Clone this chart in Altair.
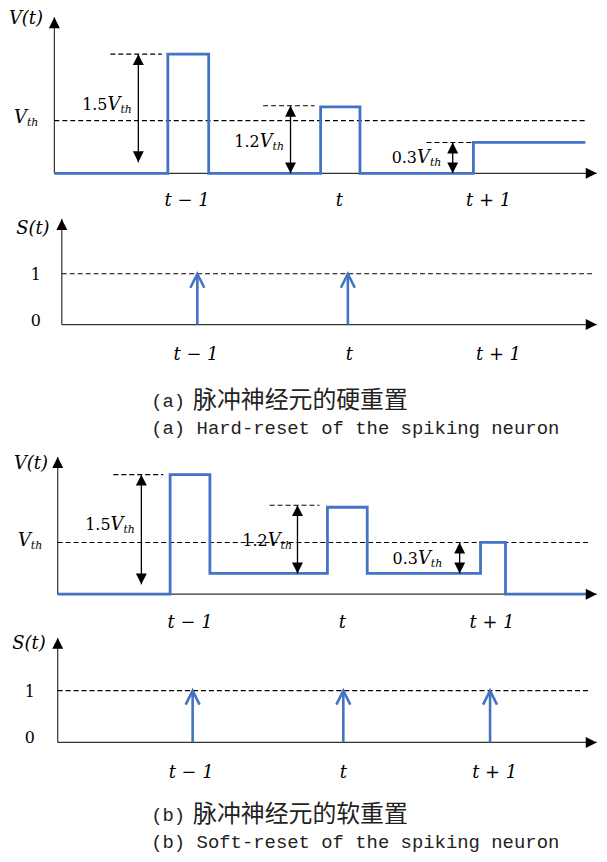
import altair as alt
import pandas as pd

BLUE = "#4472C4"
SERIF = "DejaVu Serif"
MONO = "Liberation Mono"
CJK = "Noto Sans CJK SC"
XDOM = [-0.2, 3.687]
W = 591
TICK_TEXT = ["t − 1", "t", "t + 1"]

# ---------- (a) hard reset : V(t) ----------
hv_wave_t = [0.10, 0.85, 0.85, 1.12, 1.12, 1.86, 1.86, 2.12, 2.12, 2.87, 2.87, 3.61]
hv_wave_v = [0, 0, 2.26, 2.26, 0, 0, 1.26, 1.26, 0, 0, 0.585, 0.585]
hv_axis = [0.10, 2.96, 3.685]          # axis x, top tip, right tip
hv_dash_t0 = [0.10, 0.47, 1.48, 2.56]
hv_dash_t1 = [3.61, 0.81, 1.82, 2.87]
hv_dash_v = [1.0, 2.26, 1.28, 0.585]
hv_arr_t = [0.655, 1.661, 2.733]
hv_arr_top = [2.26, 1.28, 0.585]
hv_arr_bot = [0.21, 0.0, 0.0]
hv_lab_t = [-0.167, 0.451, 1.457, 2.497]
hv_lab_v = [1.04, 1.29, 0.60, 0.29]
hv_lab_num = ["", "1.5", "1.2", "0.3"]
hv_math_t = [-0.088, 0.977, 1.984, 2.97]
hv_math_v = [2.92, -0.53, -0.53, -0.53]
hv_math_s = ["V(t)"] + TICK_TEXT
hv_ydom = [-0.679, 3.094]

# ---------- (a) hard reset : S(t) ----------
hs_axis = [0.149, 2.08, 3.685]
hs_dash_t0 = [0.149]
hs_dash_t1 = [3.67]
hs_dash_v = [1.0]
hs_spike_t = [1.045, 2.04]
hs_num_t = [-0.022, -0.022]
hs_num_v = [0.98, 0.065]
hs_num_s = ["1", "0"]
hs_math_t = [-0.042, 1.036, 2.05, 3.036]
hs_math_v = [1.88, -0.61, -0.61, -0.61]
hs_math_s = ["S(t)"] + TICK_TEXT
hs_cap = [0.74, 1.017, -1.51, -2.04]
hs_cap_text = ["(a)", "脉冲神经元的硬重置", "(a) Hard-reset of the spiking neuron"]
hs_ydom = [-2.314, 2.235]

# ---------- (b) soft reset : V(t) ----------
sv_wave_t = [0.122, 0.865, 0.865, 1.128, 1.128, 1.905, 1.905, 2.168, 2.168, 2.917, 2.917, 3.082, 3.082, 3.66]
sv_wave_v = [0, 0, 2.31, 2.31, 0.40, 0.40, 1.68, 1.68, 0.40, 0.40, 1.0, 1.0, 0, 0]
sv_axis = [0.122, 2.65, 3.685]
sv_dash_t0 = [0.122, 0.49, 1.523]
sv_dash_t1 = [3.64, 0.82, 1.852]
sv_dash_v = [1.0, 2.31, 1.72]
sv_arr_t = [0.675, 1.707, 2.779]
sv_arr_top = [2.31, 1.72, 1.0]
sv_arr_bot = [0.19, 0.40, 0.40]
sv_lab_t = [-0.141, 0.471, 1.51, 2.503]
sv_lab_v = [1.02, 1.34, 1.03, 0.67]
sv_lab_num = ["", "1.5", "1.2", "0.3"]
sv_math_t = [-0.055, 0.997, 2.003, 2.993]
sv_math_v = [2.52, -0.56, -0.56, -0.56]
sv_math_s = ["V(t)"] + TICK_TEXT
sv_ydom = [-0.75, 2.942]

# ---------- (b) soft reset : S(t) ----------
ss_axis = [0.122, 2.02, 3.685]
ss_dash_t0 = [0.122]
ss_dash_t1 = [3.647]
ss_dash_v = [1.0]
ss_spike_t = [1.014, 2.01, 2.98]
ss_num_t = [-0.062, -0.062]
ss_num_v = [0.98, 0.08]
ss_num_s = ["1", "0"]
ss_math_t = [-0.068, 1.004, 2.01, 3.01]
ss_math_v = [1.9, -0.6, -0.6, -0.6]
ss_math_s = ["S(t)"] + TICK_TEXT
ss_cap = [0.74, 1.017, -1.41, -1.92]
ss_cap_text = ["(b)", "脉冲神经元的软重置", "(b) Soft-reset of the spiking neuron"]
ss_ydom = [-2.154, 2.115]

UP = "M0,0 L-1,2 L1,2 Z"
DOWN = "M0,0 L-1,-2 L1,-2 Z"
RIGHT = "M0,0 L-2,-1 L-2,1 Z"
CHEVRON = "M-1,2 L0,0 L1,2"


def panel(ydom, height, axis, dash_t0, dash_t1, dash_v, wave=None, darrows=None,
          spikes=None, comp=None, math=None, nums=None, caption=None):
    xsc = alt.Scale(domain=XDOM, nice=False, zero=False)
    ysc = alt.Scale(domain=ydom, nice=False, zero=False)

    def X(f):
        return alt.X(f, type="quantitative", scale=xsc, axis=None)

    def Y(f):
        return alt.Y(f, type="quantitative", scale=ysc, axis=None)

    def rules(df, **kw):
        return alt.Chart(df).mark_rule(**kw).encode(x=X("x1"), x2="x2", y=Y("y1"), y2="y2")

    def heads(df, shape, **kw):
        return alt.Chart(df).mark_point(shape=shape, opacity=1, **kw).encode(x=X("x"), y=Y("y"))

    layers = []
    ax, top, right = axis
    axes_df = pd.DataFrame({"x1": [ax, ax], "x2": [ax, right], "y1": [0, 0], "y2": [top, 0]})
    layers.append(rules(axes_df, color="#333333", strokeWidth=1.2))
    dash_df = pd.DataFrame({"x1": dash_t0, "x2": dash_t1, "y1": dash_v, "y2": dash_v})
    layers.append(rules(dash_df, color="black", strokeWidth=1.1, strokeDash=[5, 3]))
    if wave is not None:
        wt, wv = wave
        wdf = pd.DataFrame({"x": wt, "y": wv, "i": list(range(len(wt)))})
        layers.append(alt.Chart(wdf).mark_line(color=BLUE, strokeWidth=2.8, strokeJoin="miter")
                      .encode(x=X("x"), y=Y("y"), order="i:Q"))
    layers.append(heads(pd.DataFrame({"x": [ax], "y": [top]}), UP, filled=True, color="black",
                        size=121, strokeWidth=0))
    layers.append(heads(pd.DataFrame({"x": [right], "y": [0]}), RIGHT, filled=True, color="black",
                        size=121, strokeWidth=0))
    if darrows is not None:
        at, atop, abot = darrows
        adf = pd.DataFrame({"x1": at, "x2": at, "y1": abot, "y2": atop})
        layers.append(rules(adf, color="black", strokeWidth=1.3))
        layers.append(heads(pd.DataFrame({"x": at, "y": atop}), UP, filled=True, color="black",
                            size=121, strokeWidth=0))
        layers.append(heads(pd.DataFrame({"x": at, "y": abot}), DOWN, filled=True, color="black",
                            size=121, strokeWidth=0))
    if spikes is not None:
        sdf = pd.DataFrame({"x1": spikes, "x2": spikes, "y1": [0] * len(spikes), "y2": [1.0] * len(spikes)})
        layers.append(rules(sdf, color=BLUE, strokeWidth=2.6))
        layers.append(heads(pd.DataFrame({"x": spikes, "y": [1.0] * len(spikes)}), CHEVRON,
                            filled=False, color=BLUE, size=196, strokeWidth=2.6))
    if comp is not None:
        lt, lv, ln = comp
        cdf = pd.DataFrame({"x": lt, "y": lv, "num": ln, "V": ["V"] * len(lt), "th": ["th"] * len(lt)})
        base = alt.Chart(cdf)
        layers.append(base.mark_text(font=SERIF, fontSize=16, align="right", baseline="middle",
                                     color="black").encode(x=X("x"), y=Y("y"), text="num:N"))
        layers.append(base.mark_text(font=SERIF, fontSize=18, fontStyle="italic", align="left",
                                     baseline="middle", color="black")
                      .encode(x=X("x"), y=Y("y"), text="V:N"))
        layers.append(base.mark_text(font=SERIF, fontSize=11, fontStyle="italic", align="left",
                                     baseline="middle", dx=13, dy=5, color="black")
                      .encode(x=X("x"), y=Y("y"), text="th:N"))
    if math is not None:
        mt, mv, ms = math
        mdf = pd.DataFrame({"x": mt, "y": mv, "s": ms})
        layers.append(alt.Chart(mdf).mark_text(font=SERIF, fontSize=18, fontStyle="italic",
                                               align="center", baseline="middle", color="black")
                      .encode(x=X("x"), y=Y("y"), text="s:N"))
    if nums is not None:
        nt, nv, ns = nums
        ndf = pd.DataFrame({"x": nt, "y": nv, "s": ns})
        layers.append(alt.Chart(ndf).mark_text(font=SERIF, fontSize=16, align="center",
                                               baseline="middle", color="black")
                      .encode(x=X("x"), y=Y("y"), text="s:N"))
    if caption is not None:
        (cx0, cx1, cy0, cy1), texts = caption
        c1 = pd.DataFrame({"x": [cx0], "y": [cy0], "s": [texts[0]]})
        c2 = pd.DataFrame({"x": [cx1], "y": [cy0], "s": [texts[1]]})
        c3 = pd.DataFrame({"x": [cx0], "y": [cy1], "s": [texts[2]]})
        layers.append(alt.Chart(c1).mark_text(font=MONO, fontSize=19, align="left", baseline="middle",
                                              color="#222222").encode(x=X("x"), y=Y("y"), text="s:N"))
        layers.append(alt.Chart(c2).mark_text(font=CJK, fontSize=24, align="left", baseline="middle",
                                              color="#222222").encode(x=X("x"), y=Y("y"), text="s:N"))
        layers.append(alt.Chart(c3).mark_text(font=MONO, fontSize=19, align="left", baseline="middle",
                                              color="#222222").encode(x=X("x"), y=Y("y"), text="s:N"))
    return alt.layer(*layers).properties(width=W, height=height)


p1 = panel(hv_ydom, 200, hv_axis, hv_dash_t0, hv_dash_t1, hv_dash_v,
           wave=(hv_wave_t, hv_wave_v), darrows=(hv_arr_t, hv_arr_top, hv_arr_bot),
           comp=(hv_lab_t, hv_lab_v, hv_lab_num), math=(hv_math_t, hv_math_v, hv_math_s))
p2 = panel(hs_ydom, 232, hs_axis, hs_dash_t0, hs_dash_t1, hs_dash_v,
           spikes=hs_spike_t, math=(hs_math_t, hs_math_v, hs_math_s),
           nums=(hs_num_t, hs_num_v, hs_num_s), caption=(hs_cap, hs_cap_text))
p3 = panel(sv_ydom, 192, sv_axis, sv_dash_t0, sv_dash_t1, sv_dash_v,
           wave=(sv_wave_t, sv_wave_v), darrows=(sv_arr_t, sv_arr_top, sv_arr_bot),
           comp=(sv_lab_t, sv_lab_v, sv_lab_num), math=(sv_math_t, sv_math_v, sv_math_s))
p4 = panel(ss_ydom, 222, ss_axis, ss_dash_t0, ss_dash_t1, ss_dash_v,
           spikes=ss_spike_t, math=(ss_math_t, ss_math_v, ss_math_s),
           nums=(ss_num_t, ss_num_v, ss_num_s), caption=(ss_cap, ss_cap_text))

chart = (
    alt.vconcat(p1, p2, p3, p4, spacing=0)
    .resolve_scale(x="independent", y="independent")
    .properties(padding=0, background="white")
    .configure_view(strokeWidth=0)
    .configure_concat(spacing=0)
)

chart.save("out.html", embed_options={"renderer": "svg", "actions": False})
